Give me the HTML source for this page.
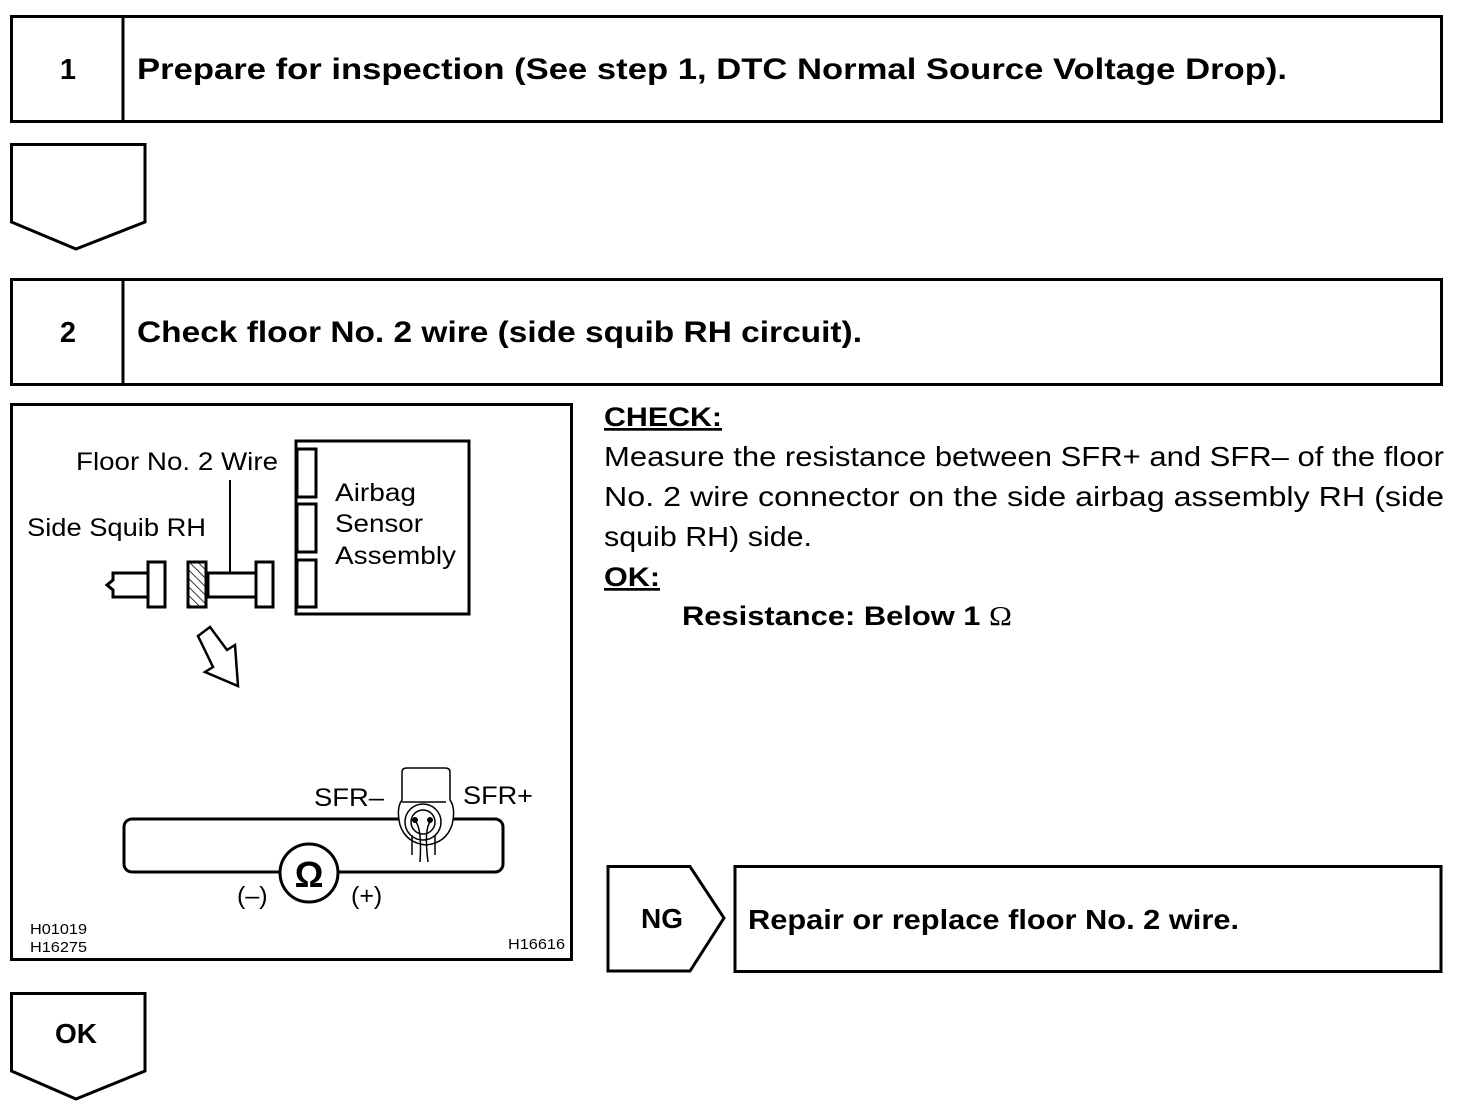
<!DOCTYPE html>
<html><head><meta charset="utf-8"><style>
html,body{margin:0;padding:0;background:#fff}
svg{display:block}
text{font-family:"Liberation Sans",Arial,sans-serif;fill:#000}
.b{font-weight:bold}
</style></head><body>
<svg width="1472" height="1108" viewBox="0 0 1472 1108" xmlns="http://www.w3.org/2000/svg">
<defs>
<pattern id="h" width="6" height="6" patternUnits="userSpaceOnUse" patternTransform="rotate(-45)">
<line x1="0" y1="0" x2="0" y2="6" stroke="#000" stroke-width="1.5"/></pattern>
</defs>
<g fill="none" stroke="#000" stroke-width="3">
<rect x="11.5" y="16.5" width="1430" height="105"/>
<line x1="123" y1="16" x2="123" y2="122"/>
<polygon points="11.5,144.5 145,144.5 145,222 76,249 11.5,222"/>
<rect x="11.5" y="279.5" width="1430" height="105"/>
<line x1="123" y1="279" x2="123" y2="385"/>
<rect x="11.5" y="404.5" width="560" height="555"/>
<polygon points="608,866.5 690,866.5 724,918 690,971 608,971"/>
<rect x="735" y="866.5" width="706" height="105"/>
<polygon points="11.5,993.5 145,993.5 145,1071 76,1099 11.5,1071"/>
</g>
<text x="68" y="79" class="b" font-size="29" text-anchor="middle">1</text>
<text x="137" y="79" class="b" font-size="30" textLength="1150" lengthAdjust="spacingAndGlyphs">Prepare for inspection (See step 1, DTC Normal Source Voltage Drop).</text>
<text x="68" y="342" class="b" font-size="29" text-anchor="middle">2</text>
<text x="137" y="342" class="b" font-size="30" textLength="725" lengthAdjust="spacingAndGlyphs">Check floor No. 2 wire (side squib RH circuit).</text>
<text x="662" y="928" class="b" font-size="28" text-anchor="middle">NG</text>
<text x="748" y="929" class="b" font-size="28" textLength="491" lengthAdjust="spacingAndGlyphs">Repair or replace floor No. 2 wire.</text>
<text x="76" y="1043" class="b" font-size="28" text-anchor="middle">OK</text>

<text x="604" y="426" class="b" font-size="27" text-decoration="underline" textLength="118" lengthAdjust="spacingAndGlyphs">CHECK:</text>
<text x="604" y="466" font-size="28" textLength="840" lengthAdjust="spacingAndGlyphs">Measure the resistance between SFR+ and SFR– of the floor</text>
<text x="604" y="506" font-size="28" textLength="840" lengthAdjust="spacingAndGlyphs">No. 2 wire connector on the side airbag assembly RH (side</text>
<text x="604" y="546" font-size="28" textLength="208" lengthAdjust="spacingAndGlyphs">squib RH) side.</text>
<text x="604" y="586" class="b" font-size="27" text-decoration="underline" textLength="56" lengthAdjust="spacingAndGlyphs">OK:</text>
<text x="682" y="625" class="b" font-size="27" textLength="330" lengthAdjust="spacingAndGlyphs">Resistance: Below 1 <tspan font-family="Liberation Serif" font-weight="normal">Ω</tspan></text>

<g fill="none" stroke="#000" stroke-width="3">
<rect x="296" y="441" width="173" height="173"/>
<rect x="297" y="449" width="19" height="48"/>
<rect x="297" y="504" width="19" height="48"/>
<rect x="297" y="560" width="19" height="47"/>
<line x1="230" y1="480" x2="230" y2="573" stroke-width="2"/>
<rect x="256" y="562" width="17" height="45"/>
<rect x="208" y="573" width="48" height="24"/>
<rect x="188" y="562" width="18" height="45" fill="url(#h)"/>
<rect x="148" y="562" width="17" height="45"/>
<polyline points="148,573 113,573 113,580 107,585 113,590 113,597 148,597"/>
<polygon points="198,636 210,627 227,650 235,645 238,686 205,672 213,667" stroke-width="2.5"/>
<rect x="124" y="819" width="379" height="53" rx="8"/>
</g>
<circle cx="309" cy="873" r="29" fill="#fff" stroke="#000" stroke-width="3"/>
<text x="309" y="887" class="b" font-size="36" text-anchor="middle">Ω</text>
<g fill="none" stroke="#000" stroke-width="1.5">
<path d="M402,772 q0,-4 5,-4 h38 q5,0 5,4 v28 q6,8 2,25 q-6,18 -26,20 q-20,-2 -26,-20 q-4,-17 2,-25 z" fill="#fff"/>
<circle cx="423" cy="822" r="18"/><circle cx="423" cy="822" r="12"/>
<path d="M416,822 q6,8 4,40 M430,822 q-6,8 -2,40 M412,835 v20 M435,835 v20"/>
<line x1="402" y1="802" x2="446" y2="802"/>
</g>
<circle cx="415" cy="820" r="3" fill="#000"/><circle cx="430" cy="820" r="3" fill="#000"/>
<text x="76" y="470" font-size="25" textLength="202" lengthAdjust="spacingAndGlyphs">Floor No. 2 Wire</text>
<text x="27" y="536" font-size="25" textLength="179" lengthAdjust="spacingAndGlyphs">Side Squib RH</text>
<text x="335" y="501" font-size="25" textLength="81" lengthAdjust="spacingAndGlyphs">Airbag</text>
<text x="335" y="532" font-size="25" textLength="88" lengthAdjust="spacingAndGlyphs">Sensor</text>
<text x="335" y="564" font-size="25" textLength="121" lengthAdjust="spacingAndGlyphs">Assembly</text>
<text x="314" y="806" font-size="25" textLength="70" lengthAdjust="spacingAndGlyphs">SFR–</text>
<text x="463" y="804" font-size="25" textLength="70" lengthAdjust="spacingAndGlyphs">SFR+</text>
<text x="237" y="904" font-size="25">(–)</text>
<text x="351" y="904" font-size="25">(+)</text>
<text x="30" y="934" font-size="15" textLength="57" lengthAdjust="spacingAndGlyphs">H01019</text>
<text x="30" y="952" font-size="15" textLength="57" lengthAdjust="spacingAndGlyphs">H16275</text>
<text x="508" y="949" font-size="15" textLength="57" lengthAdjust="spacingAndGlyphs">H16616</text>
</svg>
</body></html>
